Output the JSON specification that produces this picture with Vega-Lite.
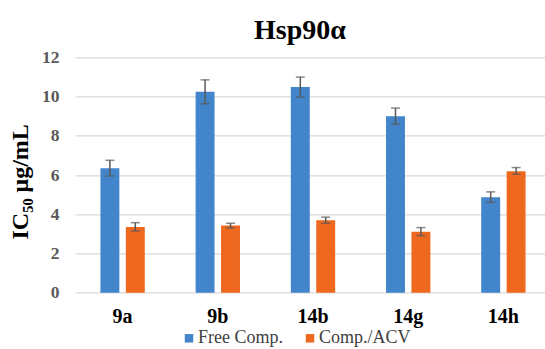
{
  "$schema": "https://vega.github.io/schema/vega-lite/v6.json",
  "autosize": "none",
  "width": 470,
  "height": 235.4,
  "padding": {"left": 75, "top": 57.3, "right": 0, "bottom": 56.3},
  "background": "white",
  "title": {
    "text": "Hsp90α",
    "font": "Liberation Serif",
    "fontSize": 28,
    "fontWeight": "bold",
    "color": "#000000",
    "anchor": "middle",
    "dx": -10,
    "offset": 3
  },
  "data": {
    "values": [
      {"cat": "9a", "series": "Free Comp.", "value": 6.35, "lo": 5.95, "hi": 6.75},
      {"cat": "9a", "series": "Comp./ACV", "value": 3.35, "lo": 3.15, "hi": 3.57},
      {"cat": "9b", "series": "Free Comp.", "value": 10.24, "lo": 9.63, "hi": 10.85},
      {"cat": "9b", "series": "Comp./ACV", "value": 3.42, "lo": 3.30, "hi": 3.54},
      {"cat": "14b", "series": "Free Comp.", "value": 10.48, "lo": 9.97, "hi": 10.99},
      {"cat": "14b", "series": "Comp./ACV", "value": 3.69, "lo": 3.54, "hi": 3.85},
      {"cat": "14g", "series": "Free Comp.", "value": 9.0, "lo": 8.59, "hi": 9.41},
      {"cat": "14g", "series": "Comp./ACV", "value": 3.11, "lo": 2.91, "hi": 3.32},
      {"cat": "14h", "series": "Free Comp.", "value": 4.87, "lo": 4.61, "hi": 5.14},
      {"cat": "14h", "series": "Comp./ACV", "value": 6.19, "lo": 6.04, "hi": 6.38}
    ]
  },
  "encoding": {
    "x": {
      "field": "cat",
      "type": "nominal",
      "sort": ["9a", "9b", "14b", "14g", "14h"],
      "scale": {"range": [0, 476], "paddingInner": 0, "paddingOuter": 0},
      "axis": {
        "title": null,
        "domain": false,
        "ticks": false,
        "labelAngle": 0,
        "labelFont": "Liberation Serif",
        "labelFontSize": 20,
        "labelFontWeight": "bold",
        "labelColor": "#000000",
        "labelPadding": 14,
        "grid": false
      }
    },
    "xOffset": {
      "field": "series",
      "type": "nominal",
      "sort": ["Free Comp.", "Comp./ACV"],
      "scale": {"paddingInner": 0.255, "paddingOuter": 1.02}
    }
  },
  "layer": [
    {
      "mark": {"type": "bar"},
      "encoding": {
        "y": {
          "field": "value",
          "type": "quantitative",
          "scale": {"domain": [0, 12], "nice": false},
          "axis": {
            "values": [0, 2, 4, 6, 8, 10, 12],
            "tickCount": 7,
            "labelOverlap": false,
            "title": "IC₅₀ μg/mL",
            "titleFont": "Liberation Serif",
            "titleFontSize": 24,
            "titleFontWeight": "bold",
            "titleColor": "#000000",
            "titlePadding": 9,
            "titleY": 124,
            "domain": false,
            "ticks": false,
            "labelFont": "Liberation Serif",
            "labelFontSize": 17.5,
            "labelFontWeight": "bold",
            "labelColor": "#595959",
            "labelPadding": 16,
            "grid": true,
            "gridColor": "#d9d9d9",
            "gridWidth": 1.3
          }
        },
        "color": {
          "field": "series",
          "type": "nominal",
          "sort": ["Free Comp.", "Comp./ACV"],
          "scale": {"domain": ["Free Comp.", "Comp./ACV"], "range": ["#4385CB", "#EF6820"]},
          "legend": {
            "title": null,
            "orient": "none",
            "direction": "horizontal",
            "legendX": 105,
            "legendY": 272,
            "symbolType": "square",
            "symbolSize": 72,
            "symbolStrokeWidth": 0,
            "labelFont": "Liberation Serif",
            "labelFontSize": 18,
            "labelColor": "#404040",
            "labelOffset": 0,
            "columnPadding": 18
          }
        }
      }
    },
    {
      "mark": {"type": "rule", "color": "#595959", "strokeWidth": 1.5},
      "encoding": {
        "y": {"field": "lo", "type": "quantitative"},
        "y2": {"field": "hi"}
      }
    },
    {
      "mark": {"type": "tick", "color": "#595959", "thickness": 1.5, "size": 9},
      "encoding": {
        "y": {"field": "lo", "type": "quantitative"}
      }
    },
    {
      "mark": {"type": "tick", "color": "#595959", "thickness": 1.5, "size": 9},
      "encoding": {
        "y": {"field": "hi", "type": "quantitative"}
      }
    }
  ],
  "config": {
    "view": {"stroke": null},
    "font": "Liberation Serif",
    "axis": {"labelFont": "Liberation Serif", "titleFont": "Liberation Serif"},
    "legend": {"labelFont": "Liberation Serif"}
  }
}
